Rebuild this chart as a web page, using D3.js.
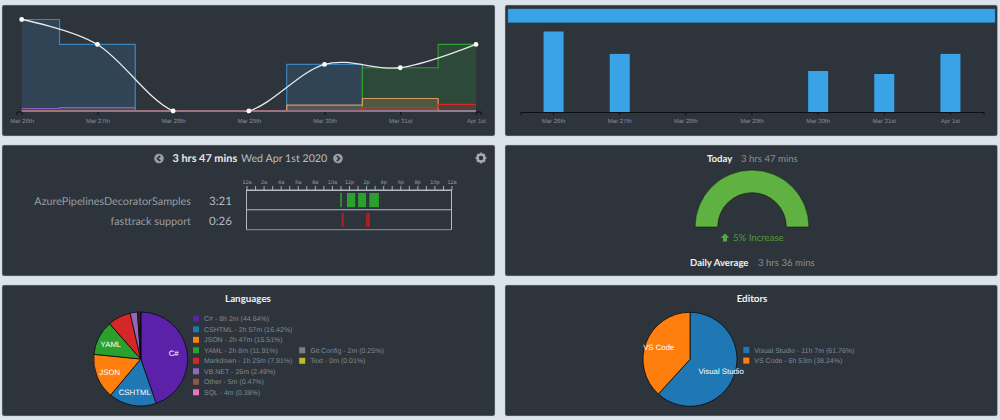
<!DOCTYPE html>
<html>
<head>
<meta charset="utf-8">
<script src="https://cdn.jsdelivr.net/npm/d3@7"></script>
<style>
html,body{margin:0;padding:0;background:#dce3ea;overflow:hidden}
svg{display:block;text-rendering:geometricPrecision}
text{font-family:"Liberation Sans",Arial,sans-serif}
.os{font-family:"Lato",sans-serif}
</style>
</head>
<body>
<svg id="c" width="1000" height="420"></svg>
<script>
const days = ["Mar 26th","Mar 27th","Mar 28th","Mar 29th","Mar 30th","Mar 31st","Apr 1st"];
const totalHours = [5.5,4.0,0,0,2.8,2.6,4.0];
const seriesBlue   = [5.5,4.0,0,0,2.8,0,0];
const seriesGreen  = [0,0,0,0,0,2.6,4.0];
const seriesOrange = [0,0,0,0,0.35,0.75,0];
const seriesPurple = [0.15,0.2,0,0,0,0,0];
const seriesRed    = [0,0,0,0,0,0.2,0.4];
const barHours = [4.85,3.5,0,0,2.47,2.29,3.5];
const summaryLabel = ["All"];
const hourTicks = ["12a","2a","4a","6a","8a","10a","12p","2p","4p","6p","8p","10p","12a"];
const projects = ["AzurePipelinesDecoratorSamples","fasttrack support"];
const projectTimes = ["3:21","0:26"];
const projectColors = ["#2ca02c","#b02028"];
const greenSessions = [[10.97,11.16],[11.76,12.73],[13.06,14.0],[14.38,15.5]];
const redSessions = [[11.15,11.38],[14.0,14.2],[14.22,14.42]];
const langNames = ["C# - 8h 2m (44.64%)","CSHTML - 2h 57m (16.42%)","JSON - 2h 47m (15.51%)","YAML - 2h 8m (11.91%)","Markdown - 1h 25m (7.91%)","VB.NET - 26m (2.49%)","Other - 5m (0.47%)","SQL - 4m (0.38%)","Git Config - 2m (0.25%)","Text - 0m (0.01%)"];
const langShort = ["C#","CSHTML","JSON","YAML","","","","","",""];
const langPct = [44.64,16.42,15.51,11.91,7.91,2.49,0.47,0.38,0.25,0.01];
const langColors = ["#5b21a8","#1f77b4","#ff7f0e","#2ca02c","#d62728","#9467bd","#8c564b","#e377c2","#7f7f7f","#bcbd22"];
const editorNames = ["Visual Studio - 11h 7m (61.76%)","VS Code - 6h 53m (38.24%)"];
const editorShort = ["Visual Studio","VS Code"];
const editorPct = [61.76,38.24];
const editorColors = ["#1f77b4","#ff7f0e"];
const panels = [[2,5,493,131],[505,5,492.5,131],[2,145,493,131],[505,145,492.5,131],[2,285,493,131],[505,285,492.5,131]];

const svg = d3.select("#c");
svg.selectAll("rect.panel").data(panels).join("rect").attr("class","panel")
  .attr("x",d=>d[0]).attr("y",d=>d[1]).attr("width",d=>d[2]).attr("height",d=>d[3])
  .attr("rx",2).attr("fill","#2d343c").attr("stroke","#b9c2cc").attr("stroke-width",0.5);

function styleAxis(g,col){
  g.selectAll("path,line").attr("stroke",col||"#0c0f12").attr("fill","none");
  g.selectAll("text").attr("fill","#8b8f94").attr("font-size",6).attr("font-family","'Liberation Sans',Arial,sans-serif");
}

/* ---- top-left: stacked steps + spline ---- */
const xL = d3.scalePoint().domain(days).range([21.7,476]);
const yL = d3.scaleLinear().domain([0,5.5]).range([111,19.5]);
svg.append("defs").append("clipPath").attr("id","clipL").append("rect").attr("x",15).attr("y",8).attr("width",470).attr("height",103.5);
const stepA = d3.area().curve(d3.curveStep).x((d,i)=>xL(days[i])).y0(yL(0)).y1(d=>yL(d));
const stepL = d3.line().curve(d3.curveStep).x((d,i)=>xL(days[i])).y(d=>yL(d));
[[seriesBlue,"#3b85bd"],[seriesGreen,"#2ca02c"],[seriesOrange,"#d99a5e"],[seriesPurple,"#8e5fc0"],[seriesRed,"#d62728"]].forEach(([s,c])=>{
  svg.append("path").attr("d",stepA(s)).attr("fill",c).attr("fill-opacity",0.2);
  svg.append("path").attr("d",stepL(s)).attr("fill","none").attr("stroke",c).attr("stroke-width",1.2);
});
svg.append("line").attr("x1",xL(days[0])).attr("x2",xL(days[6])).attr("y1",yL(0)).attr("y2",yL(0)).attr("stroke","#8d98a3").attr("stroke-width",1.2);
const axL = svg.append("g").attr("transform","translate(0,112)").call(d3.axisBottom(xL).tickSizeInner(3).tickSizeOuter(0).tickPadding(3.5));
axL.select(".domain").attr("d","M17,115V112H21.7M476,112H481V115").attr("transform","translate(0,-112)");
styleAxis(axL);
const spline = d3.line().curve(d3.curveCardinal.tension(0)).x((d,i)=>xL(days[i])).y(d=>yL(d));
svg.append("path").attr("d",spline(totalHours)).attr("clip-path","url(#clipL)").attr("fill","none").attr("stroke","#e8e8e8").attr("stroke-width",1.3);
svg.selectAll("circle.pt").data(totalHours).join("circle").attr("class","pt")
  .attr("cx",(d,i)=>xL(days[i])).attr("cy",d=>yL(d)).attr("r",2.4).attr("fill","#fff");

/* ---- top-right: bars ---- */
const xB = d3.scaleBand().domain(days).range([520.5,983.5]);
const yB = d3.scaleLinear().domain([0,4.85]).range([112,31.5]);
const bw = 20;
svg.selectAll("rect.summary").data(summaryLabel).join("rect").attr("class","summary")
  .attr("x",508).attr("y",9).attr("width",487).attr("height",13.5).attr("fill","#3aa3e8").attr("stroke","#2f7fb5").attr("stroke-width",0.5);
svg.selectAll("rect.bar").data(barHours).join("rect").attr("class","bar")
  .attr("x",(d,i)=>xB(days[i])+xB.bandwidth()/2-bw/2).attr("y",d=>yB(d)).attr("width",bw).attr("height",d=>yB(0)-yB(d))
  .attr("fill",d=>d>0?"#3aa3e8":"none");
const axB = svg.append("g").attr("transform","translate(0,112)").call(d3.axisBottom(xB).tickSizeInner(3).tickSizeOuter(3).tickPadding(3.5));
styleAxis(axB);

/* ---- middle-left: timeline ---- */
const title = svg.append("text").attr("class","os").attr("y",162);
title.append("tspan").attr("x",172.5).attr("font-size",10.9).attr("font-weight",700).attr("fill","#e8e8e8").text("3 hrs 47 mins");
title.append("tspan").attr("x",241).attr("font-size",10.7).attr("fill","#b9bcc0").text("Wed Apr 1st 2020");
function chevron(cx,cy,dir){
  svg.append("circle").attr("cx",cx).attr("cy",cy).attr("r",4.8).attr("fill","#9a9da1");
  svg.append("path").attr("d",`M${cx+dir*1.2},${cy-2.6}L${cx-dir*1.5},${cy}L${cx+dir*1.2},${cy+2.6}`).attr("fill","none").attr("stroke","#2d343c").attr("stroke-width",1.6);
}
chevron(159,158.5,1); chevron(338,158.5,-1);
const gearTeeth = d3.range(8);
svg.append("g").selectAll("rect").data(gearTeeth).join("rect").attr("x",479.8).attr("y",152.8).attr("width",2.4).attr("height",10.4)
  .attr("transform",d=>`rotate(${d*45} 481 158)`).attr("fill","#a6a9ad");
svg.append("circle").attr("cx",481).attr("cy",158).attr("r",3.2).attr("fill","#2d343c").attr("stroke","#a6a9ad").attr("stroke-width",2);

const rowY = d3.scaleBand().domain(projects).range([190,229.5]);
svg.selectAll("text.proj").data(projects).join("text").attr("class","proj os")
  .attr("x",191).attr("y",d=>rowY(d)+rowY.bandwidth()/2+5).attr("text-anchor","end").attr("font-size",10.8).attr("fill","#999da1").text(d=>d);
svg.selectAll("text.ptime").data(projectTimes).join("text").attr("class","ptime os")
  .attr("x",209).attr("y",(d,i)=>rowY(projects[i])+rowY.bandwidth()/2+5).attr("font-size",11.5).attr("fill","#b5b8bb").text(d=>d);
const xT = d3.scaleLinear().domain([0,24]).range([246.5,451.5]);
const axT = svg.append("g").attr("transform","translate(0,190)").call(d3.axisTop(xT).tickValues(d3.range(0,25)).tickSizeInner(4).tickSizeOuter(0).tickPadding(2).tickFormat(d=>d%2===0?hourTicks[d/2]:""));
styleAxis(axT,"#a9adb1");
axT.selectAll("text").attr("font-size",5.5).attr("fill","#9a9da1");
svg.append("rect").attr("x",xT(0)).attr("y",190).attr("width",xT(24)-xT(0)).attr("height",39.5).attr("fill","none").attr("stroke","#c4c7ca").attr("stroke-width",0.9);
svg.append("line").attr("x1",xT(0)).attr("x2",xT(24)).attr("y1",rowY(projects[1])).attr("y2",rowY(projects[1])).attr("stroke","#c4c7ca").attr("stroke-width",0.9);
svg.append("line").attr("x1",xT(0)).attr("x2",xT(24)).attr("y1",229.6).attr("y2",229.6).attr("stroke","#7d8186").attr("stroke-width",1.4);
[greenSessions,redSessions].forEach((sess,i)=>{
  svg.append("g").selectAll("rect").data(sess).join("rect")
    .attr("x",d=>xT(d[0])).attr("width",d=>xT(d[1])-xT(d[0]))
    .attr("y",rowY(projects[i])+3).attr("height",rowY.bandwidth()-5.6).attr("fill",projectColors[i]);
});

/* ---- middle-right: gauge ---- */
const gaugeArc = d3.arc().innerRadius(34.3).outerRadius(57);
const gaugeVal = [1];
const gaugePie = d3.pie().sort(null).startAngle(-Math.PI/2).endAngle(Math.PI/2);
svg.append("g").attr("transform","translate(752,227)").selectAll("path").data(gaugePie(gaugeVal)).join("path")
  .attr("d",gaugeArc).attr("fill","#5fb141").attr("stroke","#10140f").attr("stroke-width",0.6);
const gt = (x,y,t,w,c,a)=>svg.append("text").attr("class","os").attr("x",x).attr("y",y).attr("font-size",9.6).attr("font-weight",w).attr("fill",c).attr("text-anchor",a||"start").text(t);
gt(707,161.5,"Today",700,"#eef0f2");
gt(741,161.5,"3 hrs 47 mins",400,"#8a8e92");
gt(733,240.5,"5% Increase",400,"#4f9a38");
gt(690,265.5,"Daily Average",700,"#eef0f2");
gt(758,265.5,"3 hrs 36 mins",400,"#8a8e92");
svg.append("path").attr("d","M725,233.5L729.3,237.8H727V241.5H723V237.8H720.7Z").attr("fill","#56a83a");

/* ---- bottom: pies ---- */
function pie(cx,cy,vals,cols,labels){
  const arc = d3.arc().innerRadius(0).outerRadius(47);
  const lab = d3.arc().innerRadius(33.5).outerRadius(33.5);
  const arcs = d3.pie().sort(null)(vals);
  const g = svg.append("g").attr("transform",`translate(${cx},${cy})`);
  g.selectAll("path").data(arcs).join("path").attr("d",arc).attr("fill",(d,i)=>cols[i]).attr("stroke","#0a0a0a").attr("stroke-width",0.8);
  g.selectAll("text").data(arcs).join("text").attr("transform",d=>`translate(${lab.centroid(d)})`)
    .attr("text-anchor","middle").attr("dy",3).attr("font-size",7.8).attr("fill","#fff").text((d,i)=>labels[i]);
}
function legend(items,cols,pos){
  items.forEach((t,i)=>{
    const [x,y]=pos(i);
    svg.append("rect").attr("x",x).attr("y",y-3).attr("width",6).attr("height",6).attr("fill",cols[i]);
    svg.append("text").attr("x",x+11).attr("y",y+2.6).attr("font-size",7).attr("fill","#84888c").text(t);
  });
}
svg.append("text").attr("class","os").attr("x",248).attr("y",301.5).attr("text-anchor","middle").attr("font-size",9.8).attr("font-weight",700).attr("fill","#eef0f2").text("Languages");
svg.append("text").attr("class","os").attr("x",752).attr("y",301.5).attr("text-anchor","middle").attr("font-size",9.8).attr("font-weight",700).attr("fill","#eef0f2").text("Editors");
pie(140.7,359,langPct,langColors,langShort);
pie(690,359.3,editorPct,editorColors,editorShort);
legend(langNames,langColors,i=> i<8 ? [193,318.8+i*10.5] : [299.2,350.3+(i-8)*10.5]);
legend(editorNames,editorColors,i=>[743.3,350+i*10.6]);
</script>
</body>
</html>
